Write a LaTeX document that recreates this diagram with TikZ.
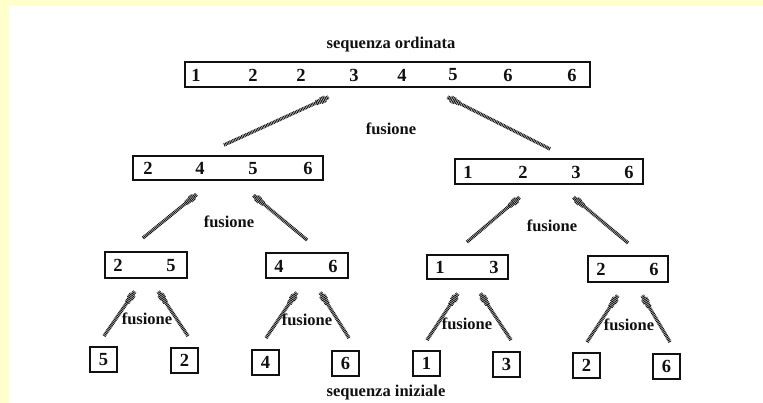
\documentclass[tikz,border=0pt]{standalone}
\usepackage{fontspec}
\setmainfont{Liberation Serif}
\usetikzlibrary{calc}
\definecolor{paleyellow}{HTML}{FFFFCC}
\definecolor{ink}{HTML}{111111}
\tikzset{
  seqbox/.style={draw=ink, line width=1.5pt, rectangle, inner sep=0pt},
  leafbox/.style={seqbox, minimum width=27pt, minimum height=25pt,
    font=\bfseries\fontsize{18.5}{20}\selectfont, text=ink},
  digit/.style={inner sep=0pt, font=\bfseries\fontsize{18.5}{20}\selectfont, text=ink},
  lbl/.style={inner sep=0pt, font=\bfseries\fontsize{16.5}{20}\selectfont, text=ink},
  hatch/.style={draw=ink, line width=#1, dash pattern=on 0.9pt off 0.7pt},
}
\newcommand\harrow[2]{%
  \path[hatch=3.4pt] (#1) -- ($(#2)!14pt!(#1)$);
  \path[hatch=5.2pt] ($(#2)!14pt!(#1)$) -- ($(#2)!9pt!(#1)$);
  \path[hatch=7pt] ($(#2)!9pt!(#1)$) -- ($(#2)!4pt!(#1)$);
  \path[hatch=4pt] ($(#2)!4pt!(#1)$) -- ($(#2)!0.5pt!(#1)$);
}
\begin{document}
\begin{tikzpicture}[x=1pt,y=-1pt]
\useasboundingbox (0,0) rectangle (763,403);
\fill[white] (0,0) rectangle (763,403);
\fill[paleyellow] (0,0) rectangle (763,6);
\fill[paleyellow] (0,0) rectangle (9,403);

% titles
\node[lbl] (tord) at (391,45) {sequenza ordinata};
\node[lbl] (tini) at (386,393) {sequenza iniziale};

% top box
\node[seqbox, minimum width=405pt, minimum height=25pt] (top) at (387.5,74.5) {};
\foreach \x/\d [count=\i] in {196/1,253/2,301/2,354/3,402/4,453/5,508/6,572/6}
  {\node[digit] (top\i) at (\x,75) {\d};}

% level 2
\node[seqbox, minimum width=190pt, minimum height=24pt] (La) at (228,168) {};
\foreach \x/\d [count=\i] in {148/2,200/4,253/5,308/6}
  {\node[digit] (La\i) at (\x,168.5) {\d};}
\node[seqbox, minimum width=188pt, minimum height=25pt] (Lb) at (549,171.5) {};
\foreach \x/\d [count=\i] in {468/1,523/2,576/3,629/6}
  {\node[digit] (Lb\i) at (\x,172) {\d};}

% level 3
\node[seqbox, minimum width=82pt, minimum height=26pt] (Ma) at (146,265) {};
\node[digit] (Ma1) at (118,265.5) {2};
\node[digit] (Ma2) at (171,265.5) {5};
\node[seqbox, minimum width=82pt, minimum height=25pt] (Mb) at (307,265.5) {};
\node[digit] (Mb1) at (279,266) {4};
\node[digit] (Mb2) at (333,266) {6};
\node[seqbox, minimum width=81pt, minimum height=24pt] (Mc) at (467.5,267) {};
\node[digit] (Mc1) at (440,267.5) {1};
\node[digit] (Mc2) at (494,267.5) {3};
\node[seqbox, minimum width=80pt, minimum height=26pt] (Md) at (628,269) {};
\node[digit] (Md1) at (601,269.5) {2};
\node[digit] (Md2) at (654,269.5) {6};

% leaves
\node[leafbox] (Fa) at (103.5,359.5) {5};
\node[leafbox] (Fb) at (184.5,360.5) {2};
\node[leafbox] (Fc) at (265.5,362.5) {4};
\node[leafbox] (Fd) at (345.5,363.5) {6};
\node[leafbox] (Fe) at (426.5,363.5) {1};
\node[leafbox] (Ff) at (506.5,364.5) {3};
\node[leafbox] (Fg) at (586.5,365.5) {2};
\node[leafbox] (Fh) at (666.5,366.5) {6};

% fusione labels
\node[lbl] (f0) at (391,129) {fusione};
\node[lbl] (f1) at (229,222) {fusione};
\node[lbl] (f2) at (552,226) {fusione};
\node[lbl] (f3) at (147,319) {fusione};
\node[lbl] (f4) at (307,320) {fusione};
\node[lbl] (f5) at (467,324) {fusione};
\node[lbl] (f6) at (629,325) {fusione};

% arrow end points
\coordinate (a1t) at (224,145); \coordinate (a1h) at (329,97);
\coordinate (a2t) at (550,149); \coordinate (a2h) at (447,97);
\coordinate (b1t) at (143,238); \coordinate (b1h) at (197,194);
\coordinate (b2t) at (307,240); \coordinate (b2h) at (253,195);
\coordinate (b3t) at (467,242); \coordinate (b3h) at (520,197);
\coordinate (b4t) at (628,243); \coordinate (b4h) at (573,197);
\coordinate (c1t) at (104,336); \coordinate (c1h) at (135,291);
\coordinate (c2t) at (188,336); \coordinate (c2h) at (158,291);
\coordinate (c3t) at (266,338); \coordinate (c3h) at (297,292);
\coordinate (c4t) at (349,338); \coordinate (c4h) at (320,292);
\coordinate (c5t) at (427,340); \coordinate (c5h) at (458,293);
\coordinate (c6t) at (511,340); \coordinate (c6h) at (480,293);
\coordinate (c7t) at (587,342); \coordinate (c7h) at (618,295);
\coordinate (c8t) at (670,342); \coordinate (c8h) at (642,295);

\foreach \a in {a1,a2,b1,b2,b3,b4,c1,c2,c3,c4,c5,c6,c7,c8}
  {\harrow{\a t}{\a h}}
\end{tikzpicture}
\end{document}
